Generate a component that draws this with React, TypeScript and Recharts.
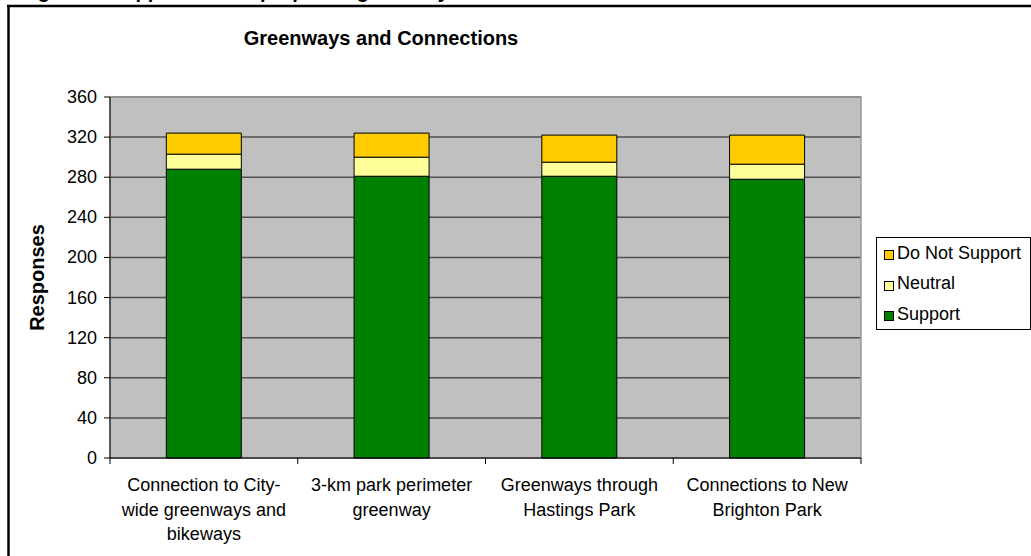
import React from 'react';
import { BarChart, Bar, XAxis, YAxis, CartesianGrid, Legend, ReferenceArea } from 'recharts';

// ---- data ----
const categories = [
  'Connection to City-wide greenways and bikeways',
  '3-km park perimeter greenway',
  'Greenways through Hastings Park',
  'Connections to New Brighton Park',
];
const categoryLines = [
  ['Connection to City-', 'wide greenways and', 'bikeways'],
  ['3-km park perimeter', 'greenway'],
  ['Greenways through', 'Hastings Park'],
  ['Connections to New', 'Brighton Park'],
];
const support = [288, 281, 281, 278];
const neutral = [15, 19, 14, 15];
const doNotSupport = [21, 24, 27, 29];
const yTicks = [0, 40, 80, 120, 160, 200, 240, 280, 320, 360];
const seriesKeys = ['support', 'neutral', 'doNotSupport'];
const seriesNames = ['Support', 'Neutral', 'Do Not Support'];
const seriesColors = ['#008000', '#FFFF99', '#FFCC00'];
const chartTitle = 'Greenways and Connections';
const yLabel = 'Responses';
const captionText = 'Figure 8: Support for the proposed greenways and connections';

const data = categories.map((name, i) => ({
  name,
  idx: i,
  support: support[i],
  neutral: neutral[i],
  doNotSupport: doNotSupport[i],
}));

// ---- layout ----
const W = 1031;
const H = 556;
const MARGIN = { top: 97, right: 170, left: 50, bottom: 38 };
const Y_AXIS_W = 60;
const X_AXIS_H = 60;
const PLOT_LEFT = MARGIN.left + Y_AXIS_W;
const PLOT_W = W - MARGIN.right - PLOT_LEFT;
const PLOT_TOP = MARGIN.top;
const PLOT_H = H - MARGIN.bottom - X_AXIS_H - MARGIN.top;
const FONT = 'Arial, "Liberation Sans", sans-serif';

const XTick = (props: any) => {
  const { x, y, payload, index } = props;
  const lines = categoryLines[payload.index] || [String(payload.value)];
  const band = PLOT_W / categories.length;
  const isLast = index === categories.length - 1;
  return (
    <g>
      <line x1={x - band / 2} x2={x - band / 2} y1={y} y2={y + 6} stroke="#000" strokeWidth={1} />
      {isLast && <line x1={x + band / 2} x2={x + band / 2} y1={y} y2={y + 6} stroke="#000" strokeWidth={1} />}
      <text x={x} y={y + 33} textAnchor="middle" fontSize={18} fontFamily={FONT} fill="#000">
        {lines.map((l: string, i: number) => (
          <tspan key={i} x={x} dy={i === 0 ? 0 : 24.5}>{l}</tspan>
        ))}
      </text>
    </g>
  );
};

const YTick = (props: any) => {
  const { x, y, payload } = props;
  return (
    <text x={x} y={y} dy={6} textAnchor="end" fontSize={18} fontFamily={FONT} fill="#000">
      {payload.value}
    </text>
  );
};

const LegendContent = () => {
  const order = [2, 1, 0];
  return (
    <div
      style={{
        border: '1px solid #000',
        background: '#fff',
        width: 155,
        height: 93,
        boxSizing: 'border-box',
        position: 'relative',
        fontFamily: FONT,
        fontSize: 18,
      }}
    >
      {order.map((s, i) => (
        <div
          key={s}
          style={{
            position: 'absolute',
            left: 7,
            top: 3 + i * 30.5,
            height: 24,
            display: 'flex',
            alignItems: 'center',
            whiteSpace: 'nowrap',
          }}
        >
          <span
            style={{
              display: 'inline-block',
              width: 10,
              height: 10,
              background: seriesColors[s],
              border: '1px solid #000',
              boxSizing: 'border-box',
              marginRight: 3,
              marginTop: 4,
            }}
          />
          <span>{seriesNames[s]}</span>
        </div>
      ))}
    </div>
  );
};

export default function App() {
  return (
    <div style={{ position: 'fixed', left: 0, top: 0, width: W, height: H, overflow: 'hidden', background: '#fff' }}>
      <svg width={W} height={H} style={{ position: 'absolute', left: 0, top: 0 }}>
        <text x={20} y={-2} fontSize={20} fontWeight="bold" fontFamily={FONT} fill="#000">{captionText}</text>
        <line x1={8.5} y1={5} x2={8.5} y2={H} stroke="#000" strokeWidth={2.5} />
        <line x1={7} y1={6} x2={W} y2={6} stroke="#000" strokeWidth={2.5} />
        <text x={381} y={45} textAnchor="middle" fontSize={20} fontWeight="bold" fontFamily={FONT} fill="#000">{chartTitle}</text>
        <text
          x={0}
          y={0}
          transform={`translate(44, ${PLOT_TOP + PLOT_H / 2}) rotate(-90)`}
          textAnchor="middle"
          fontSize={20}
          fontWeight="bold"
          fontFamily={FONT}
          fill="#000"
        >
          {yLabel}
        </text>
      </svg>
      <div style={{ position: 'absolute', left: 0, top: 0 }}>
        <BarChart width={W} height={H} data={data} margin={MARGIN} barCategoryGap="30%">
          <CartesianGrid vertical={false} fill="#C0C0C0" stroke="#505050" strokeWidth={1.5} />
          <ReferenceArea y1={0} y2={360} fill="none" stroke="#999999" strokeWidth={1.5} ifOverflow="visible" />
          <XAxis
            dataKey="name"
            height={X_AXIS_H}
            interval={0}
            axisLine={{ stroke: '#000', strokeWidth: 1 }}
            tickLine={false}
            tickSize={0}
            tickMargin={0}
            tick={<XTick />}
          />
          <YAxis
            width={Y_AXIS_W}
            domain={[0, 360]}
            ticks={yTicks}
            interval={0}
            axisLine={{ stroke: '#000', strokeWidth: 1 }}
            tickLine={{ stroke: '#000', strokeWidth: 1 }}
            tickSize={6}
            tickMargin={7}
            tick={<YTick />}
          />
          <Legend
            layout="vertical"
            align="center"
            verticalAlign="middle"
            content={<LegendContent />}
            wrapperStyle={{ position: 'absolute', left: 876, top: 237, width: 155, height: 93 }}
          />
          {seriesKeys.map((k, i) => (
            <Bar
              key={k}
              dataKey={k}
              name={seriesNames[i]}
              stackId="a"
              fill={seriesColors[i]}
              stroke="#000"
              strokeWidth={1}
              isAnimationActive={false}
            />
          ))}
        </BarChart>
      </div>
    </div>
  );
}
